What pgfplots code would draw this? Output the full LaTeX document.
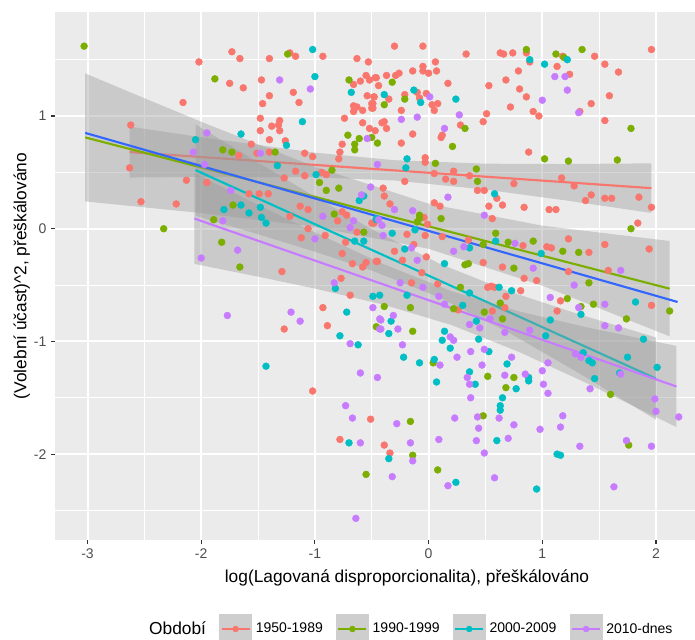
\documentclass[border=0pt]{standalone}
\usepackage{fontspec}
\setmainfont{Liberation Sans}
\usepackage{pgfplots}
\pgfplotsset{compat=1.18}
\definecolor{c1}{HTML}{F8766D}
\definecolor{c2}{HTML}{7CAE00}
\definecolor{c3}{HTML}{00BFC4}
\definecolor{c4}{HTML}{C77CFF}
\definecolor{c5}{HTML}{3366FF}
\definecolor{panel}{HTML}{EBEBEB}
\definecolor{band}{HTML}{999999}
\definecolor{keybg}{HTML}{CECECE}
\definecolor{tickcol}{HTML}{333333}
\definecolor{labcol}{HTML}{4D4D4D}
\pgfplotsset{
  pts/.style={only marks, mark=*, mark size=2.6pt, mark options={line width=0.3pt}},
  bnd/.style={draw=none, fill=band, fill opacity=0.4},
  fit/.style={line width=1.6pt, no marks},
  mylegend/.style={legend image code/.code={
    \fill[keybg] (0pt,-11pt) rectangle (24pt,11pt);
    \draw[line width=1.3pt] (1.5pt,0pt) -- (22.5pt,0pt);
    \fill (12pt,0pt) circle (2.2pt);
  }}
}
\begin{document}
\begin{tikzpicture}
\useasboundingbox (-41.25pt,-74.25pt) rectangle (480pt,405pt);
\begin{axis}[
  at={(0,0)}, anchor=south west,
  scale only axis, width=528pt, height=396pt,
  xmin=-3.286, xmax=2.906, ymin=-2.762, ymax=1.923,
  axis background/.style={fill=panel},
  axis line style={draw=none},
  xtick={-3,-2,-1,0,1,2}, ytick={-2,-1,0,1},
  minor xtick={-2.5,-1.5,-0.5,0.5,1.5,2.5},
  minor ytick={-2.5,-1.5,-0.5,0.5,1.5},
  grid=both,
  major grid style={white, line width=1.5pt},
  minor grid style={white, line width=0.75pt},
  tick align=outside, tick pos=left,
  major tick length=3pt, minor tick length=0pt,
  every tick/.style={tickcol, line width=0.8pt},
  /pgf/number format/assume math mode=true,
  ticklabel style={font=\fontsize{10.5}{12}\selectfont, text=labcol},
  xlabel={log(Lagovaná disproporcionalita), přeškálováno},
  ylabel={(Volební účast)\^{}2, přeškálováno},
  label style={font=\fontsize{13}{15}\selectfont, text=black},
  xlabel style={at={(axis description cs:0.5,-0.072)}, anchor=center},
  ylabel style={at={(axis description cs:-0.047,0.5)}, anchor=center},
  legend style={at={(axis description cs:0.887,-0.1686)}, anchor=east,
    draw=none, fill=none, legend columns=5,
    font=\fontsize{10.5}{12}\selectfont,
    /tikz/every odd column/.append style={column sep=1pt},
    /tikz/every even column/.append style={column sep=8pt}},
  legend cell align=left,
]
\addlegendimage{empty legend}
\addlegendentry{\fontsize{13}{15}\selectfont Období}
\addlegendimage{mylegend, c1}
\addlegendentry{1950-1989}
\addlegendimage{mylegend, c2}
\addlegendentry{1990-1999}
\addlegendimage{mylegend, c3}
\addlegendentry{2000-2009}
\addlegendimage{mylegend, c4}
\addlegendentry{2010-dnes}

% 1950-1989
\addplot[pts, c1] coordinates {
(-1.73,1.57) (-1.66,1.51) (-1.22,1.56) (-1.17,1.53) (-0.93,1.53) (-1.40,1.51) (-2.02,1.48) (-1.75,1.29) (-1.63,1.25) (-1.47,1.32)
(-1.19,1.21) (-1.40,1.18) (-1.46,1.11) (-1.14,1.12) (-2.16,1.12) (-1.48,0.98) (-1.31,0.96) (-1.38,0.91) (-1.32,0.92) (-1.48,0.87)
(-1.31,0.87) (-1.40,0.79) (-1.26,0.78) (-0.63,1.51) (-0.53,1.48) (-0.66,1.28) (-0.60,1.31) (-0.55,1.36) (-0.52,1.32) (-0.47,1.34)
(-0.54,1.18) (-0.48,1.17) (-0.50,1.11) (-0.66,1.09) (-0.63,1.08) (-0.66,1.04) (-0.58,1.05) (-0.49,1.07) (-0.74,0.98) (-0.58,0.94)
(-0.52,0.89) (-0.47,0.87) (-0.76,0.75) (-0.78,0.68) (-0.79,0.62) (-2.62,0.92) (-2.63,0.54) (-2.53,0.24) (-2.22,0.22) (-2.13,0.43)
(-1.95,0.41) (-1.67,0.65) (-1.56,0.75) (-1.51,0.67) (-1.40,0.68) (-1.27,0.45) (-1.17,0.51) (-1.09,0.67) (-1.02,0.64) (-1.09,0.47)
(-0.94,0.50) (-0.90,0.48) (-1.58,0.31) (-1.49,0.31) (-1.41,0.31) (-1.29,-0.38) (-1.22,0.11) (-1.13,0.20) (-1.06,0.17) (-0.80,0.07)
(-0.76,0.15) (-0.72,0.12) (-0.63,-0.03) (-0.50,0.05) (-0.73,-0.12) (-1.06,0.00) (-1.12,-0.08) (-0.91,-0.06) (-0.76,-0.22) (-0.67,-0.31)
(-0.58,-0.34) (-0.55,-0.30) (-0.46,-0.29) (-0.77,-0.44) (-0.69,-0.59) (-1.27,-0.89) (-0.93,-0.70) (-0.89,-0.86) (-1.02,-1.44) (-0.51,-1.69)
(-0.78,-1.87) (-0.39,-1.92) (-0.34,-1.99) (-0.15,-0.48) (0.08,-0.49) (0.26,-0.72) (0.56,-0.73) (0.67,-0.70) (0.68,-0.60) (0.52,-0.52)
(0.55,-0.51) (0.58,-0.52) (0.81,-0.55) (0.95,-0.46) (1.96,-0.68) (1.16,-0.64) (1.13,-0.73)
(-0.30,1.62) (-0.05,1.62) (0.33,1.55) (0.63,1.56) (0.66,1.55) (0.74,1.56) (0.86,1.56) (0.89,1.48) (1.18,1.53) (1.46,1.53)
(1.96,1.59) (1.13,1.44) (1.55,1.46) (1.67,1.39) (1.24,1.37) (0.79,1.40) (0.68,1.32) (0.80,1.24) (0.86,1.17) (0.53,1.27)
(0.72,1.08) (0.92,1.04) (0.97,1.00) (0.51,1.02) (0.48,0.95) (1.33,1.04) (1.43,1.11) (1.59,1.18) (1.55,0.96) (0.88,0.68)
(0.17,1.29) (-0.14,1.40) (-0.05,1.44) (-0.05,1.40) (0.00,1.38) (0.06,1.48) (0.07,1.40) (-0.26,1.38) (-0.29,1.36) (-0.37,1.36)
(-0.46,1.34) (-0.44,1.27) (-0.21,1.19) (-0.10,1.21) (-0.08,1.16) (-0.02,1.20) (0.03,1.10) (0.05,1.05) (0.08,1.11) (0.28,0.92)
(0.12,0.83) (0.11,0.81) (-0.24,1.05) (-0.14,0.84) (-0.24,0.76) (-0.35,1.15) (-0.48,1.17) (-0.49,1.11) (-0.50,1.07) (-0.41,0.94)
(-0.39,0.95) (-0.37,0.89) (-0.03,0.63) (-0.03,0.59) (0.22,0.51) (0.05,0.49) (-0.21,0.42) (0.15,0.44) (0.22,0.42) (0.36,0.47)
(0.75,0.40) (1.17,0.45) (1.28,0.38) (1.38,0.25) (1.43,0.30) (1.55,0.27) (1.61,0.27) (1.85,0.28) (1.96,0.19) (1.84,0.05)
(-0.40,0.36) (-0.39,0.29) (0.43,0.34) (0.49,0.34) (0.60,0.27) (0.65,0.21) (0.53,0.20) (0.84,0.19) (1.06,0.17) (1.12,0.17)
(0.05,0.23) (0.10,0.20) (0.56,0.09) (-0.34,0.22) (-0.04,0.10) (-0.01,0.04) (-0.48,0.05) (-0.19,-0.05) (-0.03,-0.06) (0.83,-0.15)
(1.04,-0.16) (1.08,-0.17) (1.23,-0.09) (1.41,-0.21) (1.55,-0.14) (1.94,-0.18) (0.12,-0.07) (0.35,-0.10) (0.48,-0.30) (-0.02,-0.25)
(-0.23,-0.28) (-0.30,-0.20) (-0.13,-0.14) (-0.45,-0.29) (-0.06,-0.39) (0.65,-0.34) (0.84,-0.44) (1.23,-0.38) (1.58,-0.37)
};
% 1990-1999
\addplot[pts, c2] coordinates {
(-3.03,1.62) (-1.24,1.55) (-1.88,1.33) (-0.70,1.32) (-0.71,0.83) (-0.61,0.80) (-0.50,0.81) (-0.45,0.76) (-0.65,0.75) (-0.65,0.70)
(-2.33,0.00) (-1.81,0.70) (-1.73,0.68) (-1.35,0.68) (-0.85,0.52) (-0.96,0.41) (-0.79,0.36) (-0.90,0.34) (-1.72,0.21) (-1.89,0.08)
(-1.82,-0.12) (-1.66,-0.34) (-0.83,0.13) (-0.57,-0.03) (-0.46,-0.87) (-0.55,-2.18) (-0.39,-0.69) (-0.14,-0.91) (-0.16,-0.70) (0.28,-0.52)
(0.22,-0.71) (0.49,-0.74) (0.04,-1.19) (0.52,-1.31) (0.75,-1.32) (0.68,-1.41) (0.48,-1.66) (1.76,-1.92) (1.60,-1.47) (1.74,-0.80)
(2.12,-0.73) (1.45,-0.67) (1.34,-0.69) (1.22,-0.62) (1.41,-0.48) (0.65,-0.80) (0.63,-0.66) (-0.14,-2.01) (-0.16,-1.71) (0.08,-2.14)
(0.86,1.59) (1.12,1.55) (1.19,1.52) (1.35,1.59) (1.78,0.89) (1.02,0.62) (1.23,0.60) (1.66,0.61) (-0.32,1.30) (-0.21,1.15)
(0.32,0.89) (0.21,0.73) (-0.39,1.10) (0.06,0.58) (0.42,0.53) (0.43,0.42) (1.78,0.00) (-0.08,0.12) (-0.08,0.09) (-0.10,0.06)
(0.11,0.09) (0.59,-0.04) (0.70,-0.12) (0.92,-0.11) (1.18,-0.20) (1.32,-0.21) (0.48,-0.14) (0.32,-0.32) (0.35,-0.31) (0.75,-0.35)
};
% 2000-2009
\addplot[pts, c3] coordinates {
(-1.02,1.59) (-1.00,1.35) (-1.11,0.95) (-1.65,0.84) (-1.25,0.74) (-0.68,1.21) (-2.05,0.79) (-1.33,0.56) (-0.99,0.48) (-0.57,0.29)
(-0.61,0.25) (-1.80,0.17) (-1.65,0.21) (-1.58,0.14) (-1.48,0.19) (-1.47,0.10) (-1.43,0.05) (-0.46,0.08) (-0.65,-0.11) (-0.57,-0.11)
(-0.82,-0.53) (-0.49,-0.60) (-0.72,-0.74) (-0.78,-0.95) (-0.62,-1.03) (-1.43,-1.22) (-0.70,-1.90) (-0.43,-0.59) (-0.33,-0.82) (-0.35,-0.93)
(-0.19,-0.59) (0.30,-0.68) (0.36,-0.57) (0.42,-0.82) (0.44,-0.98) (0.14,-0.91) (0.12,-0.99) (0.19,-1.06) (0.53,-1.09) (0.05,-1.16)
(-0.08,-1.19) (-0.22,-1.14) (0.07,-1.36) (0.36,-1.27) (0.41,-1.38) (0.69,-1.20) (0.77,-1.42) (0.88,-1.32) (0.88,-1.35) (0.65,-1.50)
(0.63,-1.57) (0.63,-1.61) (0.60,-1.88) (0.95,-2.31) (1.13,-2.00) (1.16,-2.01) (1.46,-1.33) (1.68,-1.28) (1.75,-1.14) (2.01,-1.23)
(1.89,-0.98) (1.82,-0.65) (1.34,-0.76) (1.07,-0.81) (1.03,-0.95) (1.36,-1.10) (1.41,-1.17) (1.44,-1.19) (0.73,-0.55) (0.62,-0.52)
(-0.35,-2.04) (0.24,-2.25)
(0.89,1.50) (1.22,1.50) (1.02,1.46) (-0.39,1.19) (-0.13,1.23) (-0.07,1.12) (0.24,1.15) (-0.19,0.62) (-0.20,0.54) (0.58,0.31)
(-0.46,0.09) (-0.32,-0.04) (-0.12,-0.01) (0.59,-0.11) (0.99,-0.22) (0.36,-0.17) (0.14,-0.31) (-0.21,-0.18)
};
% 2010-dnes
\addplot[pts, c4] coordinates {
(-1.31,1.32) (-1.04,1.24) (-0.54,0.80) (-0.45,0.57) (-1.95,0.85) (-2.07,0.68) (-1.97,0.57) (-1.48,0.67) (-0.51,0.37) (-0.59,0.30)
(-1.74,0.34) (-1.81,0.07) (-1.68,-0.19) (-2.00,-0.26) (-0.93,0.11) (-0.66,0.07) (-0.69,0.01) (-1.00,-0.09) (-0.83,-0.48)
(-1.77,-0.77) (-1.21,-0.74) (-1.13,-0.82) (-0.49,-0.70) (-0.43,-0.80) (-0.43,-0.89) (-0.69,-1.02) (-0.60,-1.28) (-0.45,-1.32) (-0.73,-1.57)
(-0.67,-1.68) (-0.60,-1.90) (-0.64,-2.57) (-0.42,-0.81) (-0.31,-0.77) (-0.42,-0.89) (-0.27,-0.89) (-0.25,-0.48) (-0.05,-0.52) (0.14,-0.67)
(0.09,-0.60) (0.36,-0.85) (0.45,-0.88) (0.19,-0.96) (0.22,-0.99) (0.25,-1.14) (0.37,-1.09) (0.49,-1.07) (0.10,-1.21) (-0.23,-1.03)
(0.34,-1.32) (0.36,-1.38) (0.47,-1.21) (0.37,-1.50) (0.73,-1.14) (0.67,-1.30) (0.85,-1.29) (1.00,-1.26) (1.01,-1.38) (1.05,-1.46)
(1.05,-1.19) (0.43,-1.67) (0.62,-1.68) (0.44,-1.77) (0.42,-1.88) (0.49,-1.99) (0.70,-1.86) (0.75,-1.74) (0.58,-2.21) (0.98,-1.78)
(1.18,-1.66) (1.16,-1.76) (1.33,-1.93) (1.63,-2.29) (1.74,-1.88) (1.96,-1.93) (2.20,-1.67) (1.99,-1.51) (2.00,-1.62) (1.42,-1.42)
(1.69,-1.29) (1.67,-0.88) (1.55,-0.86) (1.55,-0.67) (1.32,-0.70) (1.07,-0.61) (1.28,-0.50) (1.29,-1.11) (1.34,-1.14) (0.89,-0.90)
(0.67,-0.92) (0.54,-0.80) (-0.28,-1.73) (-0.16,-1.90) (-0.14,-2.06) (-0.32,-2.20) (0.17,-2.28) (0.09,-1.87) (0.23,-1.68)
(1.11,1.35) (1.20,1.35) (1.22,1.23) (1.00,1.14) (1.32,1.03) (0.01,1.17) (0.27,1.01) (0.14,0.89) (-0.10,0.99) (-0.24,0.97)
(0.17,0.28) (0.49,0.12) (-0.30,0.17) (-0.14,0.16) (-0.44,0.08) (-0.41,0.03) (-0.40,-0.06) (0.76,-0.13) (0.22,-0.20) (0.31,-0.16)
(-0.10,-0.28) (-0.15,-0.17) (0.92,-0.35) (1.69,-0.37)
};

% confidence bands and fitted lines
\addplot[bnd] coordinates {(-2.63,0.906) (-2,0.812) (-1,0.675) (-0.3,0.608) (0.5,0.577) (1.2,0.574) (1.96,0.580)
  (1.96,0.140) (1.2,0.252) (0.5,0.347) (-0.3,0.428) (-1,0.457) (-2,0.460) (-2.63,0.454)} -- cycle;
\addplot[fit, c1] coordinates {(-2.63,0.68) (1.96,0.36)};
\addplot[bnd] coordinates {(-3.02,1.378) (-2.5,1.158) (-2,0.949) (-1,0.549) (0,0.222) (1,0.027) (2.12,-0.109)
  (2.12,-0.955) (1,-0.505) (0,-0.178) (-1,0.017) (-2,0.139) (-2.5,0.190) (-3.02,0.242)} -- cycle;
\addplot[fit, c2] coordinates {(-3.02,0.81) (2.12,-0.532)};
\addplot[bnd] coordinates {(-2.05,0.925) (-1.5,0.587) (-1,0.284) (-0.5,-0.005) (0.1,-0.312) (0.7,-0.553) (1.3,-0.752) (2.0,-0.965)
  (2.0,-1.695) (1.3,-1.268) (0.7,-0.919) (0.1,-0.612) (-0.5,-0.371) (-1,-0.204) (-1.5,-0.049) (-2.05,0.115)} -- cycle;
\addplot[fit, c3] coordinates {(-2.05,0.52) (2.0,-1.33)};
\addplot[bnd] coordinates {(-2.06,0.492) (-1.5,0.211) (-1,-0.033) (-0.4,-0.313) (0.2,-0.554) (0.8,-0.735) (1.4,-0.877) (2.18,-1.04)
  (2.18,-1.76) (1.4,-1.375) (0.8,-1.095) (0.2,-0.854) (-0.4,-0.673) (-1,-0.531) (-1.5,-0.425) (-2.06,-0.312)} -- cycle;
\addplot[fit, c4] coordinates {(-2.06,0.09) (2.18,-1.40)};
\addplot[fit, c5] coordinates {(-3.02,0.85) (2.19,-0.65)};
\end{axis}
\end{tikzpicture}
\end{document}
